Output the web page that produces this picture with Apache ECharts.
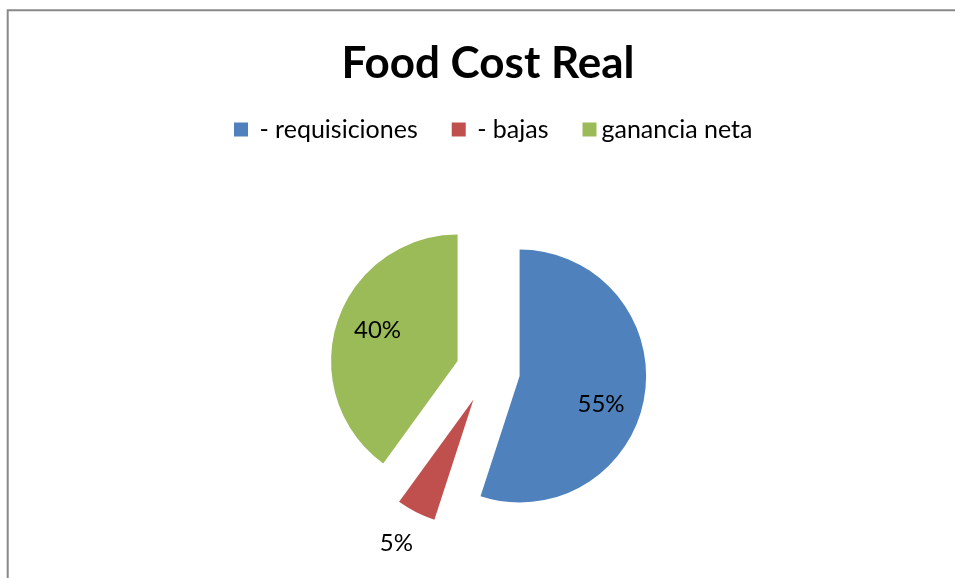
<!DOCTYPE html>
<html>
<head>
<meta charset="utf-8">
<script src="https://cdn.jsdelivr.net/npm/echarts@6/dist/echarts.min.js"></script>
<style>
html,body{margin:0;padding:0;background:#fff;}
#main{width:955px;height:578px;}
</style>
</head>
<body>
<div id="main"></div>
<script>
const titleText = 'Food Cost Real';
const categories = [' - requisiciones', ' - bajas', 'ganancia neta'];
const values = [55, 5, 40];
const colors = ['#4F81BD', '#C0504D', '#9BBB59'];
const labelShift = [[16, 18], [-47, 85], [-17, -10]];

const FONT = 'Lato, "Noto Sans", sans-serif';
const chart = echarts.init(document.getElementById('main'), null, {renderer: 'canvas'});

const data = categories.map((name, i) => ({
  name: name,
  value: values[i],
  selected: true,
  itemStyle: {color: colors[i]}
}));

chart.setOption({
  animation: false,
  backgroundColor: '#fff',
  graphic: [{
    type: 'rect',
    shape: {x: 7.7, y: 10.3, width: 1200, height: 1000},
    style: {fill: 'none', stroke: '#898989', lineWidth: 2},
    silent: true
  }],
  title: {
    text: titleText,
    left: 483,
    top: 37,
    textAlign: 'center',
    textStyle: {fontFamily: FONT, fontWeight: 'bold', fontSize: 44, color: '#000'}
  },
  legend: {
    data: categories,
    left: 234,
    top: 117,
    padding: 0,
    icon: 'rect',
    itemWidth: 14,
    itemHeight: 14,
    itemGap: 34,
    selectedMode: false,
    textStyle: {fontFamily: FONT, fontSize: 25, color: '#000'}
  },
  series: [{
    type: 'pie',
    center: [488, 371],
    radius: [0, 126.5],
    startAngle: 90,
    clockwise: true,
    selectedMode: 'multiple',
    selectedOffset: 32,
    avoidLabelOverlap: false,
    silent: true,
    emphasis: {disabled: true},
    label: {
      show: true,
      position: 'inside',
      formatter: '{d}%',
      fontFamily: FONT,
      fontSize: 24,
      color: '#000'
    },
    labelLayout: function (p) {
      const s = labelShift[p.dataIndex];
      return {dx: s[0], dy: s[1]};
    },
    labelLine: {show: false},
    data: data
  }]
});
</script>
</body>
</html>
